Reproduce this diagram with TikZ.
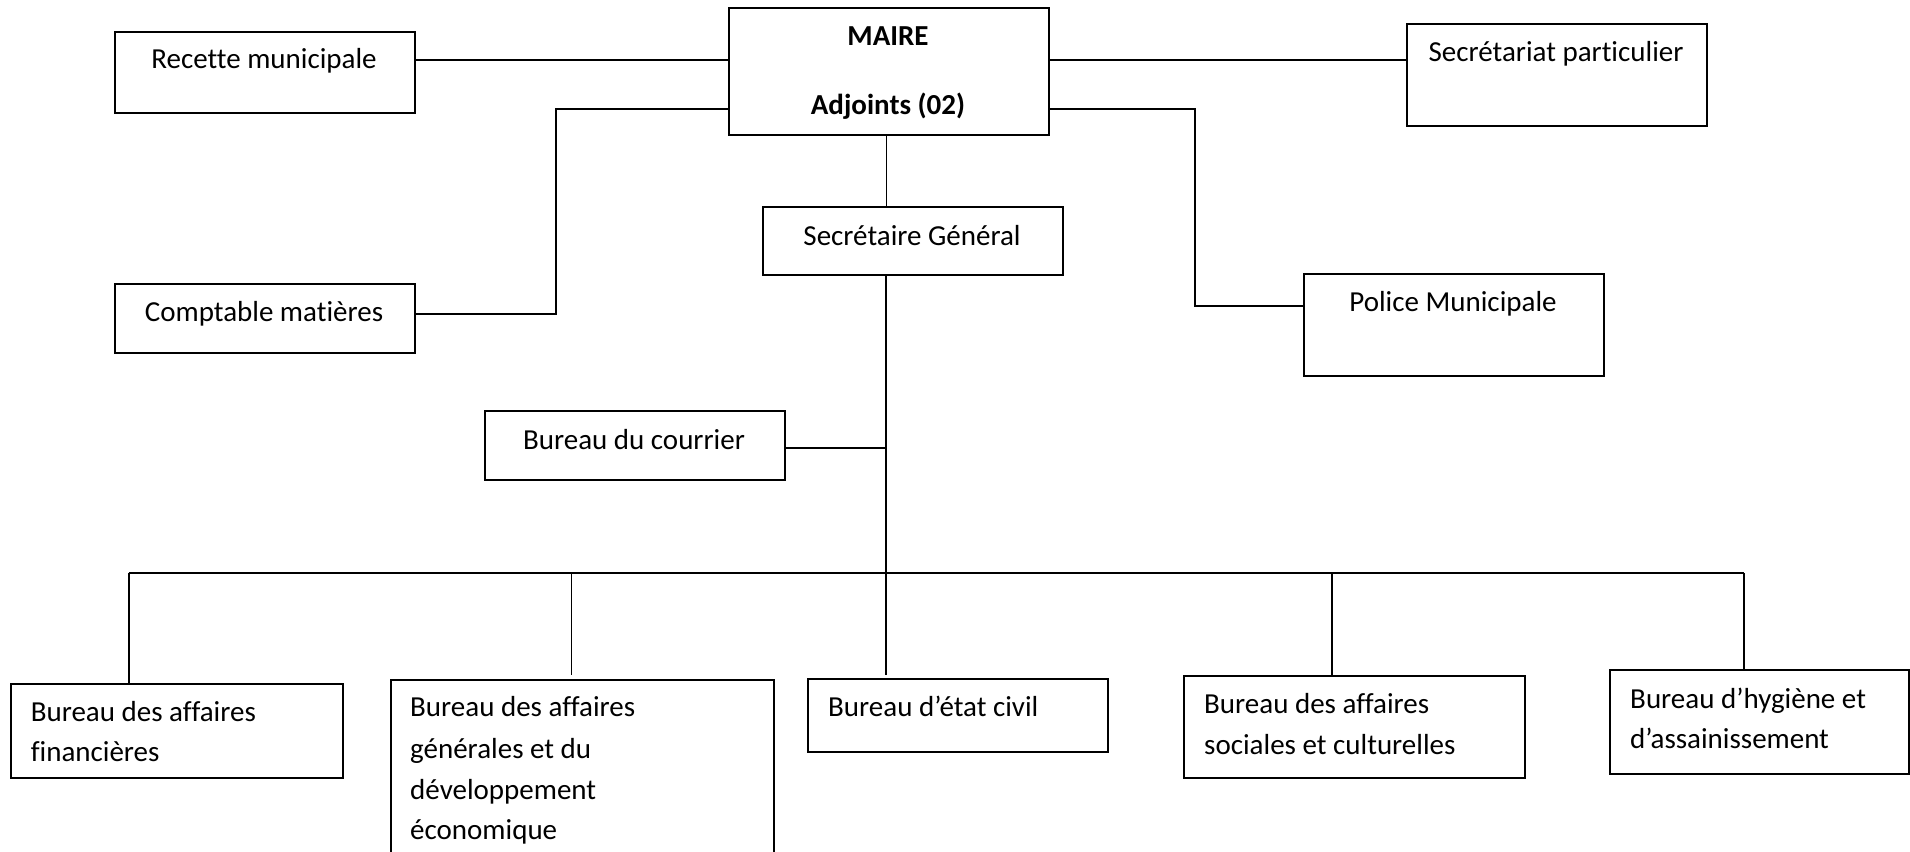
\documentclass[tikz,border=0pt]{standalone}
\usepackage{fontspec}
\setmainfont[Ligatures={NoCommon}]{Carlito}
\begin{document}
\begin{tikzpicture}[x=1pt,y=-1pt,
  box/.style={draw, line width=1.6pt, rectangle, inner sep=0pt, anchor=north west},
  conn/.style={line width=1.8pt},
  thinconn/.style={line width=1pt},
  lbl/.style={inner sep=0pt, font=\fontsize{29}{41}\selectfont}]
\useasboundingbox (0,0) rectangle (1910,851);
% boxes
\node[box, minimum width=300pt, minimum height=81pt] (rec) at (114,31) {};
\node[box, minimum width=320pt, minimum height=127pt] (maire) at (728,7) {};
\node[box, minimum width=300pt, minimum height=102pt] (sec) at (1406,23) {};
\node[box, minimum width=300pt, minimum height=69pt] (compt) at (114,283) {};
\node[box, minimum width=300pt, minimum height=68pt] (sg) at (762,206) {};
\node[box, minimum width=300pt, minimum height=102pt] (police) at (1303,273) {};
\node[box, minimum width=300pt, minimum height=69pt] (courr) at (484,410) {};
\node[box, minimum width=332pt, minimum height=94pt] (fin) at (10,683) {};
\node[box, minimum width=383pt, minimum height=191pt] (gen) at (390,679) {};
\node[box, minimum width=300pt, minimum height=73pt] (etat) at (807,678) {};
\node[box, minimum width=341pt, minimum height=102pt] (soc) at (1183,675) {};
\node[box, minimum width=299pt, minimum height=104pt] (hyg) at (1609,669) {};
% texts
\node[lbl, anchor=base] (trec) at (264,68.3) {Recette municipale};
\node[lbl, anchor=base, font=\fontsize{29}{41}\selectfont\bfseries] (tmaire) at (888,45.7) {MAIRE};
\node[lbl, anchor=base, font=\fontsize{29}{41}\selectfont\bfseries] (tadj) at (888,114) {Adjoints (02)};
\node[lbl, anchor=base] (tsec) at (1556,61.7) {Secrétariat particulier};
\node[lbl, anchor=base] (tcompt) at (264,321.7) {Comptable matières};
\node[lbl, anchor=base] (tsg) at (912,245) {Secrétaire Général};
\node[lbl, anchor=base] (tpol) at (1453,311.7) {Police Municipale};
\node[lbl, anchor=base] (tcour) at (634,449) {Bureau du courrier};
\node[lbl, anchor=base west] (tfin1) at (30.6,721.7) {Bureau des affaires};
\node[lbl, anchor=base west] (tfin2) at (30.6,761.7) {financières};
\node[lbl, anchor=base west] (tgen1) at (410,716.7) {Bureau des affaires};
\node[lbl, anchor=base west] (tgen2) at (410,758.3) {générales et du};
\node[lbl, anchor=base west] (tgen3) at (410,799.3) {développement};
\node[lbl, anchor=base west] (tgen4) at (410,839.3) {économique};
\node[lbl, anchor=base west] (tetat) at (828,716.7) {Bureau d’état civil};
\node[lbl, anchor=base west] (tsoc1) at (1204,713.3) {Bureau des affaires};
\node[lbl, anchor=base west] (tsoc2) at (1204,754) {sociales et culturelles};
\node[lbl, anchor=base west] (thyg1) at (1630,708.3) {Bureau d’hygiène et};
\node[lbl, anchor=base west] (thyg2) at (1630,748.3) {d’assainissement};
% helper coordinates
\coordinate (yTop) at (0,60);
\coordinate (yAdj) at (0,108.7);
\coordinate (lv) at (556.3,314);
\coordinate (rv) at (1195,306);
\coordinate (spine) at (886,0);
\coordinate (bus) at (0,573.3);
\coordinate (dFin) at (128.6,573.3);
\coordinate (dGen) at (571.3,573.3);
\coordinate (dSoc) at (1332,573.3);
\coordinate (dHyg) at (1743.6,573.3);
% connectors
\draw[conn] (rec.east |- yTop) -- (maire.west |- yTop);
\draw[conn] (maire.east |- yTop) -- (sec.west |- yTop);
\draw[conn] (maire.west |- yAdj) -- (lv |- yAdj) -- (lv) -- (compt.east |- lv);
\draw[conn] (maire.east |- yAdj) -- (rv |- yAdj) -- (rv) -- (police.west |- rv);
\draw[thinconn] (spine |- maire.south) -- (spine |- sg.north);
\draw[conn] (spine |- sg.south) -- (spine |- 0,674.7);
\draw[conn] (courr.east |- 0,447.7) -- (spine |- 0,447.7);
\draw[conn] (dFin) -- (dHyg);
\draw[conn] (dFin) -- (dFin |- fin.north);
\draw[thinconn] (dGen) -- (dGen |- 0,674.7);
\draw[conn] (dSoc) -- (dSoc |- soc.north);
\draw[conn] (dHyg) -- (dHyg |- hyg.north);
\end{tikzpicture}
\end{document}
